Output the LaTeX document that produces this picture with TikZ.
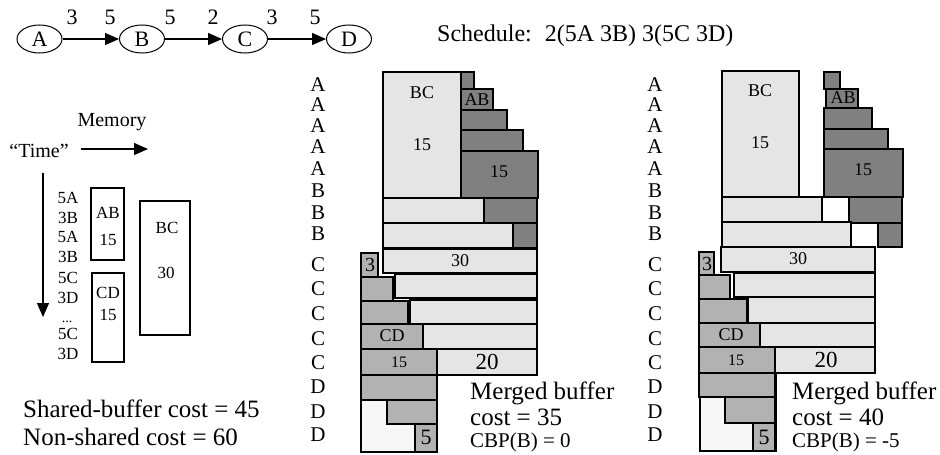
\documentclass[tikz,border=0pt]{standalone}
\usepackage{fontspec}
\setmainfont{Liberation Serif}
\usetikzlibrary{arrows.meta,shapes.geometric}
\definecolor{lg}{gray}{0.9}
\definecolor{dg}{gray}{0.5}
\definecolor{mg}{gray}{0.7}
\definecolor{vlg}{gray}{0.97}
\newcommand{\fsz}[1]{\fontsize{#1}{#1}\selectfont}
\begin{document}
\begin{tikzpicture}[x=1pt,y=-1pt,
  bx/.style={draw=black, line width=1.6pt},
  lbl/.style={inner sep=0pt, font=\fsz{18}},
  col/.style={inner sep=0pt, font=\fsz{21}},
  txt/.style={inner sep=0pt, anchor=base west, font=\fsz{25}},
  small/.style={inner sep=0pt, anchor=base west, font=\fsz{21}},
  ell/.style={draw, ellipse, line width=1pt, minimum width=45pt, minimum height=28pt, inner sep=0pt, font=\fsz{22}},
  arr/.style={line width=1.4pt, -{Triangle[length=14pt,width=12pt]}},
  elab/.style={inner sep=0pt, font=\fsz{22}},
]
\useasboundingbox (0,0) rectangle (940,455);

% top graph
\node[ell] (A) at (39.5,39) {A};
\node[ell] (B) at (142,39) {B};
\node[ell] (C) at (245,39) {C};
\node[ell] (D) at (349,39) {D};
\draw[arr] (A) -- (B);
\draw[arr] (B) -- (C);
\draw[arr] (C) -- (D);
\node[elab] (l1) at (72,17) {3};
\node[elab] (l2) at (110,17) {5};
\node[elab] (l3) at (170,17) {5};
\node[elab] (l4) at (213,17) {2};
\node[elab] (l5) at (272,17) {3};
\node[elab] (l6) at (315,17) {5};
\node[inner sep=0pt, anchor=west, font=\fsz{24}] (sched) at (437,36) {Schedule:\hspace{13pt}2(5A 3B) 3(5C 3D)};

% left panel
\node[col, font=\fsz{20}] (mem) at (112,122) {Memory};
\node[col, font=\fsz{20}] (time) at (39,151) {“Time”};
\coordinate (m1) at (81,149);
\coordinate (m2) at (148,149);
\draw[arr] (m1) -- (m2);
\coordinate (t1) at (43,173);
\coordinate (t2) at (43,317);
\draw[arr] (t1) -- (t2);
\foreach \t/\y [count=\i] in {5A/198,3B/218,5A/237,3B/257,5C/278,3D/298,5C/334,3D/354}
  \node[inner sep=0pt, font=\fsz{17}] (sl\i) at (68,\y) {\t};
\node[inner sep=0pt, font=\fsz{14}] (sdots) at (67,322) {...};
\draw[bx, line width=1.7pt] (91,188) rectangle (124,260);
\node[inner sep=0pt, font=\fsz{17}] (lab) at (108,213) {AB};
\node[inner sep=0pt, font=\fsz{17}] (lab15) at (108,240) {15};
\draw[bx, line width=1.7pt] (92,273) rectangle (124,362);
\node[inner sep=0pt, font=\fsz{17}] (lcd) at (108,293) {CD};
\node[inner sep=0pt, font=\fsz{17}] (lcd15) at (108,315) {15};
\draw[bx, line width=1.7pt] (140,201) rectangle (190,335);
\node[inner sep=0pt, font=\fsz{17}] (lbc) at (167,228) {BC};
\node[inner sep=0pt, font=\fsz{17}] (lbc30) at (166,273) {30};
\node[txt] (shared) at (23,417) {Shared-buffer cost = 45};
\node[txt] (nonshared) at (23,445) {Non-shared cost = 60};

% letter columns
\foreach \l/\y [count=\i] in {A/85,A/105,A/126,A/147,A/169,B/191,B/213,B/234,C/265,C/289,C/314,C/339,C/363,D/387,D/412,D/435} {
  \node[col] (ma\i) at (318,\y) {\l};
  \node[col] (ra\i) at (655,\y) {\l};
}

% middle diagram
\draw[bx,fill=lg] (383,72) rectangle (461,198);
\draw[bx,fill=dg] (461,72) rectangle (474,89);
\draw[bx,fill=dg] (461,89) rectangle (493,110);
\draw[bx,fill=dg] (461,110) rectangle (507,130);
\draw[bx,fill=dg] (461,130) rectangle (523,151);
\draw[bx,fill=dg] (461,151) rectangle (538,198);
\draw[bx,fill=lg] (383,198) rectangle (484,223);
\draw[bx,fill=dg] (484,198) rectangle (537,223);
\draw[bx,fill=lg] (383,223) rectangle (513,248);
\draw[bx,fill=dg] (513,223) rectangle (537,248);
\draw[bx,fill=lg] (383,249) rectangle (537,273);
\draw[bx,fill=mg] (361,253) rectangle (378,277);
\draw[bx,fill=lg] (395,274) rectangle (537,298);
\draw[bx,fill=mg] (361,277) rectangle (393,301);
\draw[bx,fill=lg] (410,300) rectangle (537,324);
\draw[bx,fill=mg] (361,301) rectangle (408,324);
\draw[bx,fill=lg] (423,324) rectangle (537,349);
\draw[bx,fill=mg] (361,324) rectangle (423,349);
\draw[bx,fill=lg] (437,349) rectangle (537,375);
\draw[bx,fill=mg] (361,349) rectangle (437,375);
\draw[bx,fill=mg] (361,375) rectangle (437,400);
\draw[bx,fill=vlg] (361,400) rectangle (437,452);
\draw[bx,fill=mg] (387,400) rectangle (437,424);
\draw[bx,fill=mg] (415,424) rectangle (437,452);
\draw[line width=2.6pt] (437,375) -- (437,452);
\node[lbl] (mbc) at (422,93) {BC};
\node[lbl] (mbc15) at (422,145) {15};
\node[lbl] (mab) at (477,100) {AB};
\node[lbl] (mab15) at (499,172) {15};
\node[lbl] (m30) at (460,261) {30};
\node[lbl, font=\fsz{20}] (m3) at (370,265) {3};
\node[lbl] (mcd) at (392,336) {CD};
\node[lbl, font=\fsz{16}] (mcd15) at (399,362) {15};
\node[lbl, font=\fsz{23}] (m20) at (487,362) {20};
\node[lbl, font=\fsz{22}] (m5) at (426,437) {5};
\node[txt] (mt1) at (470,399) {Merged buffer};
\node[txt] (mt2) at (470,425) {cost = 35};
\node[small] (mt3) at (470,447) {CBP(B) = 0};

% right diagram
\draw[bx,fill=lg] (722,71) rectangle (799,197);
\draw[bx,fill=dg] (824,72) rectangle (840,89);
\draw[bx,fill=dg] (826,89) rectangle (858,108);
\draw[bx,fill=dg] (824,108) rectangle (872,129);
\draw[bx,fill=dg] (824,129) rectangle (888,149);
\draw[bx,fill=dg] (824,149) rectangle (903,197);
\draw[bx,fill=lg] (722,197) rectangle (822,222);
\draw[bx,fill=dg] (849,197) rectangle (902,223);
\draw[bx,fill=lg] (722,222) rectangle (851,247);
\draw[bx,fill=dg] (878,223) rectangle (902,247);
\draw[bx,fill=lg] (721,247) rectangle (875,272);
\draw[bx,fill=mg] (699,252) rectangle (714,275);
\draw[bx,fill=lg] (734,273) rectangle (875,297);
\draw[bx,fill=mg] (699,275) rectangle (730,299);
\draw[bx,fill=lg] (748,297) rectangle (875,323);
\draw[bx,fill=mg] (699,299) rectangle (747,323);
\draw[bx,fill=lg] (760,323) rectangle (875,347);
\draw[bx,fill=mg] (699,323) rectangle (760,347);
\draw[bx,fill=lg] (775,347) rectangle (875,373);
\draw[bx,fill=mg] (699,347) rectangle (775,373);
\draw[bx,fill=mg] (699,373) rectangle (775,397);
\draw[bx,fill=vlg] (700,397) rectangle (776,451);
\draw[bx,fill=mg] (725,397) rectangle (775,423);
\draw[bx,fill=mg] (753,423) rectangle (775,451);
\draw[line width=2.6pt] (776,373) -- (776,451);
\node[lbl] (rbc) at (760,91) {BC};
\node[lbl] (rbc15) at (760,143) {15};
\node[lbl] (rab) at (843,98) {AB};
\node[lbl] (rab15) at (863,170) {15};
\node[lbl] (r30) at (798,259) {30};
\node[lbl, font=\fsz{20}] (r3) at (707,264) {3};
\node[lbl] (rcd) at (731,335) {CD};
\node[lbl, font=\fsz{16}] (rcd15) at (736,360) {15};
\node[lbl, font=\fsz{23}] (r20) at (826,360) {20};
\node[lbl, font=\fsz{22}] (r5) at (764,437) {5};
\node[txt] (rt1) at (792,399) {Merged buffer};
\node[txt] (rt2) at (792,425) {cost = 40};
\node[small] (rt3) at (792,447) {CBP(B) = -5};
\end{tikzpicture}
\end{document}
